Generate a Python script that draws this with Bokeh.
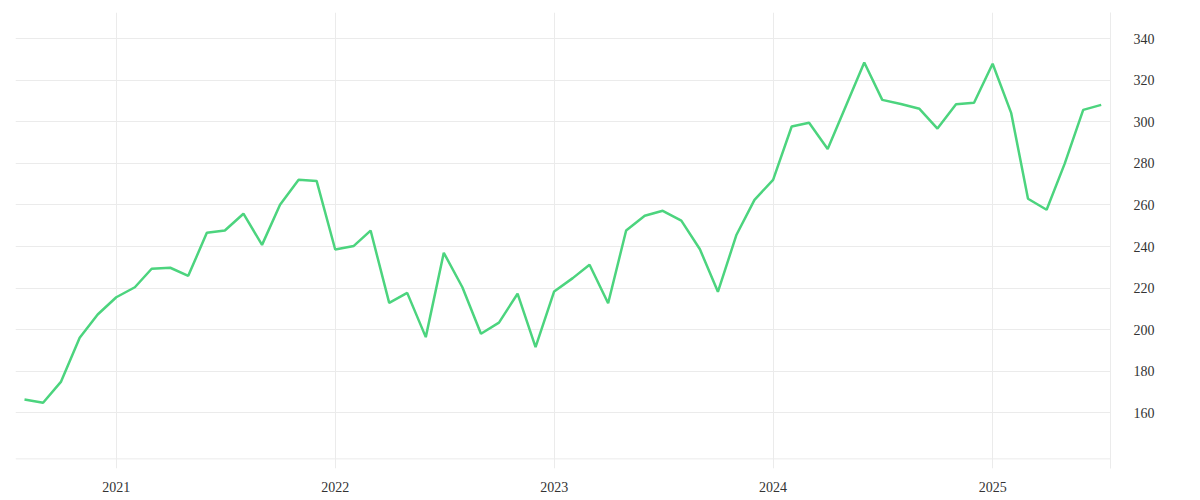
import pandas as pd
from bokeh.plotting import figure
from bokeh.models import LinearAxis, FixedTicker, DatetimeTickFormatter, Range1d, Span, DatetimeAxis, Grid
from bokeh.embed import file_html
from bokeh.resources import INLINE

# Monthly values, Aug 2020 .. Jul 2025
months = pd.date_range("2020-08-01", "2025-07-01", freq="MS")
values = [
    166.4, 164.8, 175.0, 196.1, 207.3,
    215.6, 220.4, 229.3, 229.8, 225.9, 246.6, 247.7, 255.8, 240.8, 260.1, 272.1, 271.6,
    238.6, 240.3, 247.7, 212.9, 217.7, 196.4, 237.0, 220.4, 198.0, 203.4, 217.3, 191.6,
    218.4, 224.8, 231.2, 212.7, 247.7, 254.8, 257.2, 252.5, 238.7, 218.2, 245.7, 262.5,
    272.1, 297.8, 299.6, 287.0, 307.4, 328.6, 310.6, 308.6, 306.3, 296.8, 308.5, 309.2,
    328.0, 304.2, 263.0, 257.7, 279.8, 305.8, 308.2,
]
year_ticks = [2021, 2022, 2023, 2024, 2025]
y_ticks = [160, 180, 200, 220, 240, 260, 280, 300, 320, 340]

pad = pd.Timedelta(days=15)
x_start = months[0] - pad
x_end = months[-1] + pd.Timedelta(days=15.5)

p = figure(
    width=1200, height=500,
    x_axis_type=None, y_axis_location=None,
    x_range=Range1d(x_start, x_end),
    y_range=Range1d(133.16, 352.66),
    output_backend="svg", toolbar_location=None,
    min_border_left=15, min_border_top=12, min_border_right=90, min_border_bottom=32,
)
# drop any default grids
p.center = [r for r in p.center if not isinstance(r, Grid)]
p.outline_line_color = None
p.background_fill_color = "white"
p.border_fill_color = "white"

font = "Liberation Serif"

xticker = FixedTicker(ticks=[pd.Timestamp(f"{y}-01-01").value / 1e6 for y in year_ticks])
xaxis = DatetimeAxis(
    ticker=xticker,
    formatter=DatetimeTickFormatter(years="%Y", months="%Y", days="%Y"),
)
xaxis.axis_line_color = None
xaxis.major_tick_line_color = None
xaxis.minor_tick_line_color = None
xaxis.major_label_standoff = 7
xaxis.major_label_text_font = font
xaxis.major_label_text_font_size = "14px"
xaxis.major_label_text_color = "#333333"
p.add_layout(xaxis, "below")

yticker = FixedTicker(ticks=y_ticks)
yaxis = LinearAxis(ticker=yticker)
yaxis.axis_line_color = "#ebebeb"
yaxis.axis_line_width = 1
yaxis.major_tick_line_color = None
yaxis.minor_tick_line_color = None
yaxis.major_label_standoff = 17
yaxis.major_label_text_font = font
yaxis.major_label_text_font_size = "14px"
yaxis.major_label_text_color = "#333333"
p.add_layout(yaxis, "right")

p.add_layout(Grid(dimension=0, ticker=xticker, grid_line_color="#ebebeb", grid_line_width=1))
p.add_layout(Grid(dimension=1, ticker=yticker, grid_line_color="#ebebeb", grid_line_width=1))

p.add_layout(Span(location=137.8, dimension="width", line_color="#ebebeb", line_width=1))

p.line(months, values, line_color="#4cd47e", line_width=2.5)

open("out.html", "w").write(file_html(p, INLINE))
